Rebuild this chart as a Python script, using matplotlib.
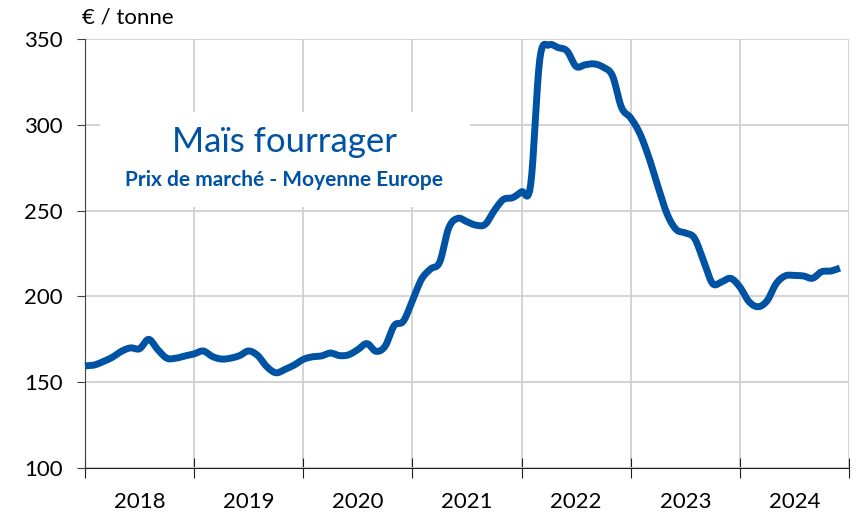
import numpy as np
import matplotlib
matplotlib.use("Agg")
import matplotlib.pyplot as plt
from matplotlib.patches import Rectangle

# monthly prices, Jan 2018 -> Dec 2024 (EUR / tonne)
prices = [
    159.5, 160, 162, 164.5, 168, 170, 169.5, 175, 169, 164, 164, 165.3,
    166.5, 168.2, 165, 163.5, 164, 165.5, 168.2, 165.5, 159, 155.5, 157.5, 160,
    163.3, 164.8, 165.3, 167, 165.5, 166, 169, 172.5, 168, 171, 183, 185.5,
    197.5, 210, 216, 220, 240, 245.5, 243.5, 241.5, 242, 250, 256.5, 257.5,
    261, 265, 338, 346.5, 345, 343, 334, 335, 335.5, 333.5, 328.5, 310,
    304, 295, 281, 264, 248, 239, 237, 234, 221, 207.5, 208.5, 210.5,
    205.5, 197, 194, 197.5, 207.5, 212, 212.2, 211.9, 210.6, 214.4, 214.8, 216.5,
]
years = [2018, 2019, 2020, 2021, 2022, 2023, 2024]
yticks = [100, 150, 200, 250, 300, 350]

x = 2018 + np.arange(len(prices)) / 12
y = np.array(prices, dtype=float)


# Excel-style "smoothed line": Catmull-Rom curve through the monthly points
def smooth(xs, ys, n=8):
    px = np.concatenate([[xs[0]], xs, [xs[-1]]])
    py = np.concatenate([[ys[0]], ys, [ys[-1]]])
    t = np.linspace(0, 1, n, endpoint=False)
    out_x, out_y = [], []
    for i in range(1, len(px) - 2):
        for p, o in ((px, out_x), (py, out_y)):
            p0, p1, p2, p3 = p[i - 1], p[i], p[i + 1], p[i + 2]
            o.extend(0.5 * (2 * p1 + (-p0 + p2) * t
                            + (2 * p0 - 5 * p1 + 4 * p2 - p3) * t ** 2
                            + (-p0 + 3 * p1 - 3 * p2 + p3) * t ** 3))
    out_x.append(xs[-1])
    out_y.append(ys[-1])
    return out_x, out_y


plt.rcParams["font.family"] = ["Lato", "DejaVu Sans"]
blue = "#0052A3"

fig = plt.figure(figsize=(8.6, 5.18), dpi=100)
ax = fig.add_axes([0.0988, 0.0965, 0.8884, 0.8282])

sx, sy = smooth(x, y)
ax.plot(sx, sy, color=blue, lw=5, solid_capstyle="butt",
        solid_joinstyle="round", zorder=4, clip_on=False)

ax.set_xlim(2018, 2025)
ax.set_ylim(100, 350)
ax.set_yticks(yticks)
ax.set_xticks(range(2018, 2026))
ax.set_xticklabels([])
ax.set_xticks([yr + 0.5 for yr in years], minor=True)
ax.set_xticklabels([str(yr) for yr in years], minor=True)

ax.grid(True, color="#D0D0D0", lw=1.3, zorder=0)
ax.set_axisbelow(True)
for s in ["top", "right"]:
    ax.spines[s].set_visible(False)
ax.spines["left"].set_color("#404040")
ax.spines["bottom"].set_color("#202020")

ax.tick_params(axis="y", direction="out", length=6, pad=10,
               labelsize=16, color="#404040")
ax.tick_params(axis="x", which="major", direction="inout", length=14,
               color="#202020")
ax.tick_params(axis="x", which="minor", length=0, pad=17, labelsize=16)

# white box behind the title
fig.patches.append(Rectangle((100 / 860, 1 - 207 / 518), 370 / 860, 95 / 518,
                             transform=fig.transFigure, facecolor="white",
                             edgecolor="none", zorder=2))
fig.text(284 / 860, 1 - 142 / 518, "Maïs fourrager", color=blue,
         fontsize=25, ha="center", va="center", zorder=3)
fig.text(284 / 860, 1 - 180 / 518, "Prix de marché - Moyenne Europe",
         color=blue, fontsize=15, fontweight="bold", ha="center",
         va="center", zorder=3)

fig.text(82 / 860, 1 - 17 / 518, "€ / tonne", fontsize=16,
         ha="left", va="center")

fig.savefig("out.png", dpi=100)
